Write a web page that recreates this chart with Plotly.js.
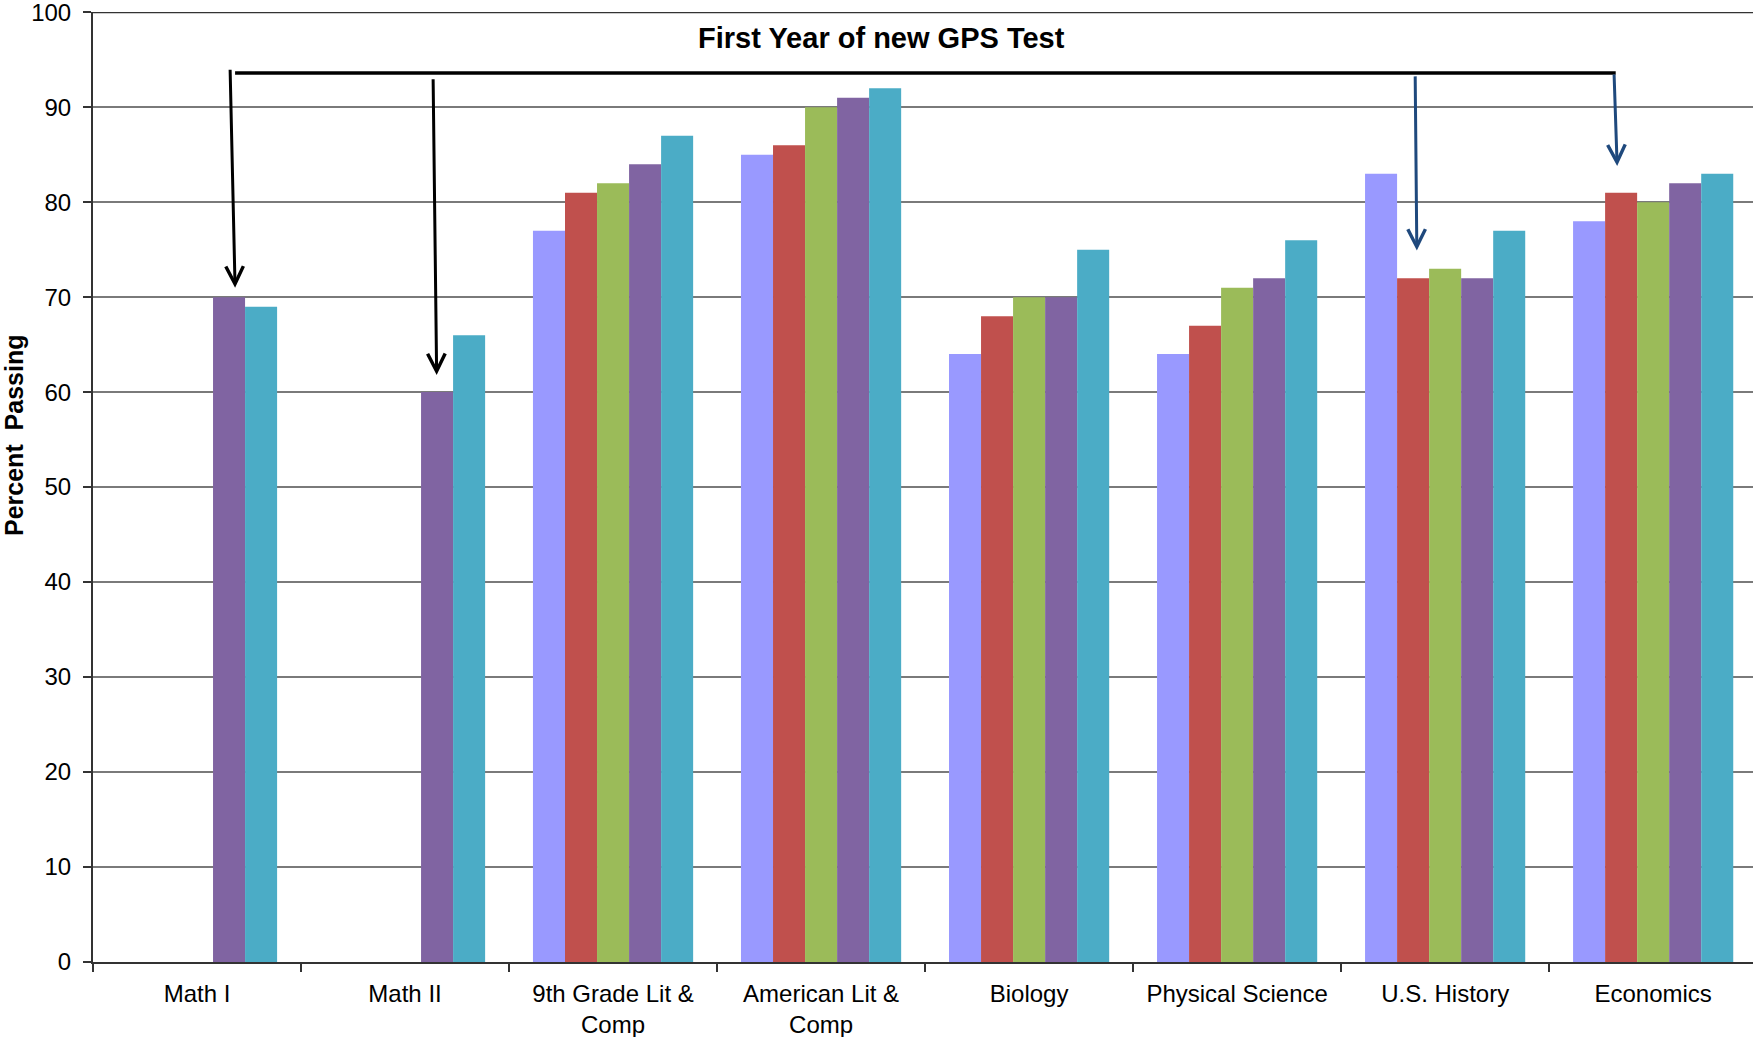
<!DOCTYPE html>
<html>
<head>
<meta charset="utf-8">
<script src="https://cdn.plot.ly/plotly-3.0.1.min.js"></script>
<style>html,body{margin:0;padding:0;background:#fff;}#chart{width:1753px;height:1037px;}</style>
</head>
<body>
<div id="chart"></div>
<script>
// Categories (tick labels)
const categories = ["Math I", "Math II", "9th Grade Lit &<br>Comp", "American Lit &<br>Comp",
  "Biology", "Physical Science", "U.S. History", "Economics"];

// Five series (unnamed years in the source chart)
const series1 = [null, null, 77, 85, 64, 64, 83, 78];
const series2 = [null, null, 81, 86, 68, 67, 72, 81];
const series3 = [null, null, 82, 90, 70, 71, 73, 80];
const series4 = [70, 60, 84, 91, 70, 72, 72, 82];
const series5 = [69, 66, 87, 92, 75, 76, 77, 83];

const yTicks = [0, 10, 20, 30, 40, 50, 60, 70, 80, 90, 100];

const seriesList = [series1, series2, series3, series4, series5];
const colors = ["#9999FF", "#C0504D", "#9BBB59", "#8064A2", "#4BACC6"];

const traces = seriesList.map((vals, i) => ({
  type: "bar",
  x: categories,
  y: vals,
  marker: {color: colors[i], line: {width: 0}},
  hoverinfo: "y"
}));

const black = "#000000";
const blue = "#1F497D";
const fam = "Liberation Sans, Arial, sans-serif";

const layout = {
  width: 1753,
  height: 1037,
  margin: {l: 93, r: 0, t: 12, b: 75, pad: 0},
  paper_bgcolor: "#ffffff",
  plot_bgcolor: "#ffffff",
  showlegend: false,
  barmode: "group",
  bargap: 0.23,
  bargroupgap: 0,
  font: {family: fam, size: 24, color: "#000"},
  xaxis: {
    type: "category",
    range: [-0.5, 7.48],
    showline: true, linecolor: "#333", linewidth: 2,
    ticks: "outside", ticklen: 8, tickcolor: "#333", tickwidth: 1.5,
    tickson: "boundaries",
    ticklabelstandoff: 9,
    showgrid: false, zeroline: false,
    tickfont: {size: 24, family: fam},
    automargin: false
  },
  yaxis: {
    range: [0, 100.02],
    tickmode: "array",
    tickvals: yTicks,
    ticktext: yTicks.map(String),
    ticklabeloverflow: "allow",
    showline: true, linecolor: "#333", linewidth: 2,
    ticks: "outside", ticklen: 8, tickcolor: "#333", tickwidth: 1.5,
    showgrid: true, gridcolor: "#7a7a7a", gridwidth: 1.5,
    zeroline: false,
    ticklabelstandoff: 7,
    tickfont: {size: 24, family: fam},
    automargin: false
  },
  shapes: [
    // top border at 100
    {type: "line", xref: "paper", yref: "y", x0: 0, x1: 1, y0: 100, y1: 100,
     line: {color: "#333", width: 2}},
    // horizontal bracket line
    {type: "line", xref: "x", yref: "y", x0: 0.183, y0: 93.6, x1: 6.82, y1: 93.6,
     line: {color: black, width: 3.5}}
  ],
  annotations: [
    {text: "<b>First Year of new GPS Test</b>", xref: "paper", yref: "paper",
     x: (881 - 93) / 1660, y: 1 - (38 - 12) / 950, xanchor: "center", yanchor: "middle",
     showarrow: false, font: {size: 29, family: fam, color: "#000"}},
    {text: "<b>Percent&nbsp; Passing</b>", xref: "paper", yref: "paper",
     x: (14 - 93) / 1660, y: 1 - (436 - 12) / 950, xanchor: "center", yanchor: "middle",
     textangle: -90, showarrow: false,
     font: {size: 25, family: fam, color: "#000"}},
    // Math I arrow
    {x: 0.183, y: 71.0, ax: 0.159, ay: 94.1, xref: "x", yref: "y", axref: "x", ayref: "y",
     text: "", showarrow: true, arrowhead: 5, arrowsize: 1.15, arrowwidth: 3, arrowcolor: black},
    // Math II arrow
    {x: 1.152, y: 61.8, ax: 1.135, ay: 93.1, xref: "x", yref: "y", axref: "x", ayref: "y",
     text: "", showarrow: true, arrowhead: 5, arrowsize: 1.15, arrowwidth: 3, arrowcolor: black},
    // U.S. History arrow
    {x: 5.864, y: 74.9, ax: 5.856, ay: 93.4, xref: "x", yref: "y", axref: "x", ayref: "y",
     text: "", showarrow: true, arrowhead: 5, arrowsize: 1.15, arrowwidth: 3, arrowcolor: blue},
    // Economics arrow
    {x: 6.827, y: 83.8, ax: 6.812, ay: 93.6, xref: "x", yref: "y", axref: "x", ayref: "y",
     text: "", showarrow: true, arrowhead: 5, arrowsize: 1.15, arrowwidth: 3, arrowcolor: blue}
  ]
};

Plotly.newPlot("chart", traces, layout, {displayModeBar: false, staticPlot: true});
</script>
</body>
</html>
